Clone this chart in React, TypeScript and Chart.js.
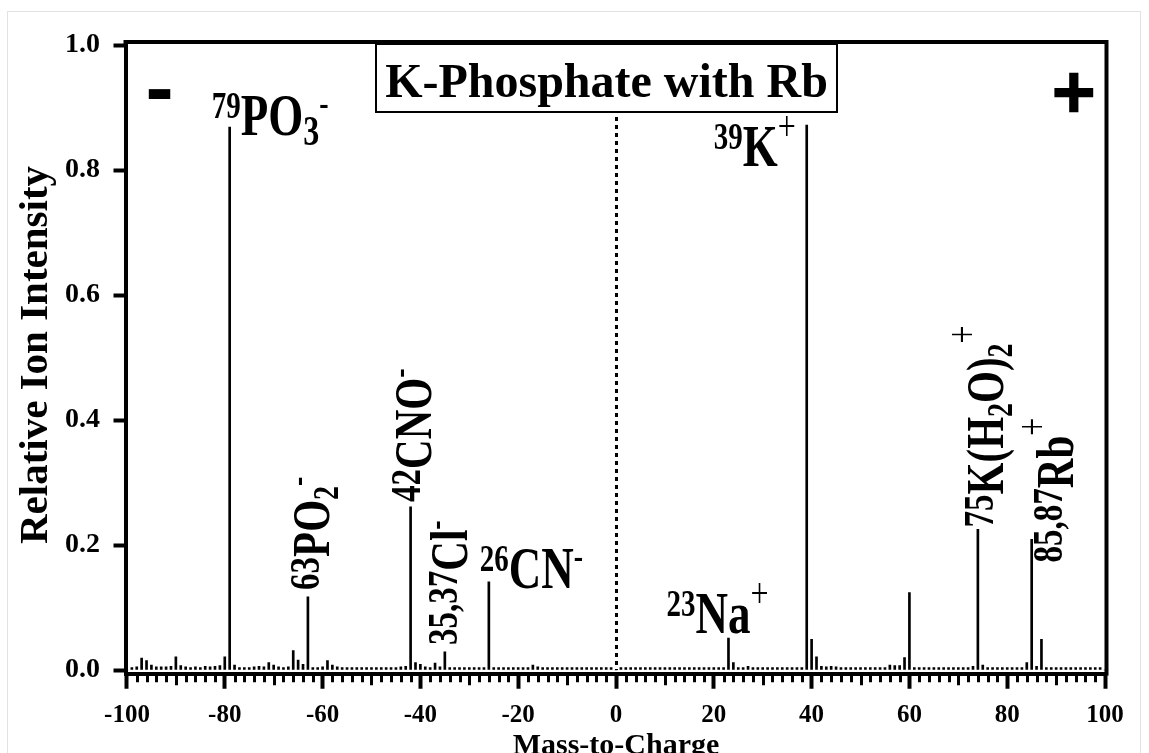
import React, { useEffect, useRef } from 'react';
import { Chart, registerables } from 'chart.js';

Chart.register(...registerables);

// ---------------- data ----------------
const MZ_START = -100;
// relative ion intensity for m/z = -100 ... 100 (negative ions left, positive ions right)
const intensity: number[] = [
  // -100 .. -91
  0, 0.004, 0.005, 0.019, 0.015, 0.008, 0.005, 0.005, 0.005, 0.006,
  // -90 .. -81
  0.021, 0.007, 0.005, 0.004, 0.005, 0.004, 0.006, 0.005, 0.006, 0.007,
  // -80 .. -71
  0.021, 0.869, 0.008, 0.004, 0.004, 0.004, 0.005, 0.006, 0.005, 0.012,
  // -70 .. -61
  0.008, 0.005, 0.004, 0.005, 0.031, 0.016, 0.009, 0.117, 0.004, 0.004,
  // -60 .. -51
  0.005, 0.015, 0.008, 0.005, 0.004, 0.004, 0.004, 0.004, 0.004, 0.004,
  // -50 .. -41
  0.004, 0.004, 0.004, 0.004, 0.004, 0.004, 0.005, 0.006, 0.261, 0.012,
  // -40 .. -31
  0.009, 0.005, 0.004, 0.011, 0.005, 0.029, 0.004, 0.004, 0.004, 0.004,
  // -30 .. -21
  0.004, 0.004, 0.004, 0.004, 0.141, 0.004, 0.004, 0.004, 0.004, 0.004,
  // -20 .. -11
  0.004, 0.004, 0.004, 0.008, 0.005, 0.004, 0.004, 0.004, 0.004, 0.004,
  // -10 .. -1
  0.004, 0.004, 0.004, 0.004, 0.004, 0.004, 0.004, 0.004, 0.004, 0.004,
  // 0
  0,
  // 1 .. 10
  0.004, 0.004, 0.004, 0.004, 0.004, 0.004, 0.004, 0.004, 0.004, 0.004,
  // 11 .. 20
  0.004, 0.004, 0.004, 0.004, 0.004, 0.004, 0.004, 0.004, 0.004, 0.004,
  // 21 .. 30
  0.004, 0.004, 0.051, 0.012, 0.004, 0.004, 0.006, 0.004, 0.004, 0.004,
  // 31 .. 40
  0.004, 0.004, 0.004, 0.004, 0.004, 0.004, 0.004, 0.004, 0.872, 0.049,
  // 41 .. 50
  0.021, 0.006, 0.005, 0.006, 0.005, 0.004, 0.004, 0.004, 0.004, 0.004,
  // 51 .. 60
  0.004, 0.004, 0.004, 0.004, 0.004, 0.008, 0.007, 0.007, 0.020, 0.124,
  // 61 .. 70
  0.004, 0.004, 0.004, 0.004, 0.004, 0.004, 0.004, 0.004, 0.004, 0.004,
  // 71 .. 80
  0.004, 0.004, 0.006, 0.225, 0.008, 0.004, 0.004, 0.004, 0.004, 0.004,
  // 81 .. 90
  0.004, 0.004, 0.004, 0.012, 0.209, 0.006, 0.049, 0.004, 0.004, 0.004,
  // 91 .. 100
  0.004, 0.004, 0.004, 0.004, 0.004, 0.004, 0.004, 0.004, 0.004, 0,
];

const xTickValues = [-100, -80, -60, -40, -20, 0, 20, 40, 60, 80, 100];
const yTickValues = [0, 0.2, 0.4, 0.6, 0.8, 1.0];

const chartTitle = 'K-Phosphate with Rb';
const xAxisTitle = 'Mass-to-Charge';
const yAxisTitle = 'Relative Ion Intensity';
const negativeSign = '-';
const positiveSign = '+';

type Part = { t: string; k: 'sup' | 'main' | 'sub' | 'minus' | 'plus' };

// peak labels: m/z of the labelled peak and the rich text parts
const labelMz = [-79, 39, 23, -26, -63, -42, -35, 74, 85];
const labelParts: Part[][] = [
  [{ t: '79', k: 'sup' }, { t: 'PO', k: 'main' }, { t: '3', k: 'sub' }, { t: '-', k: 'minus' }],
  [{ t: '39', k: 'sup' }, { t: 'K', k: 'main' }, { t: '+', k: 'plus' }],
  [{ t: '23', k: 'sup' }, { t: 'Na', k: 'main' }, { t: '+', k: 'plus' }],
  [{ t: '26', k: 'sup' }, { t: 'CN', k: 'main' }, { t: '-', k: 'minus' }],
  [{ t: '63', k: 'sup' }, { t: 'PO', k: 'main' }, { t: '2', k: 'sub' }, { t: '-', k: 'minus' }],
  [{ t: '42', k: 'sup' }, { t: 'CNO', k: 'main' }, { t: '-', k: 'minus' }],
  [{ t: '35,37', k: 'sup' }, { t: 'Cl', k: 'main' }, { t: '-', k: 'minus' }],
  [
    { t: '75', k: 'sup' }, { t: 'K(H', k: 'main' }, { t: '2', k: 'sub' },
    { t: 'O)', k: 'main' }, { t: '2', k: 'sub' }, { t: '+', k: 'plus' },
  ],
  [{ t: '85,87', k: 'sup' }, { t: 'Rb', k: 'main' }, { t: '+', k: 'plus' }],
];

// ---------------- layout / style ----------------
const FONT = '"Liberation Serif", "Times New Roman", Times, serif';
const labelLayout = [
  { dx: -18, dy: 8, rot: false },
  { dx: -93, dy: 41, rot: false },
  { dx: -62, dy: -5, rot: false },
  { dx: -9, dy: 6, rot: false },
  { dx: 21, dy: -7, rot: true },
  { dx: 20, dy: -5, rot: true },
  { dx: 22, dy: -7, rot: true },
  { dx: 25, dy: -2, rot: true },
  { dx: 41, dy: 23, rot: true },
];
const H_SIZES = { main: 45, sup: 29, sub: 32 };
const R_SIZES = { main: 41, sup: 33, sub: 28 };
const STRETCH = 1.3;

function drawRich(ctx: CanvasRenderingContext2D, parts: Part[], x0: number, y0: number, rot: boolean) {
  const sz = rot ? R_SIZES : H_SIZES;
  const k = STRETCH;
  const capM = 0.662 * sz.main * k;
  let adv = 0;
  for (const p of parts) {
    let size = sz.main;
    let weight = 'bold';
    let off = 0;
    if (p.k === 'sup') {
      size = sz.sup;
      off = -(capM - 0.676 * sz.sup * k) - 4;
    } else if (p.k === 'sub') {
      size = sz.sub;
      off = 0.23 * sz.main;
    } else if (p.k === 'minus') {
      size = 28;
      off = -(28 - 0.23 * 28 * k);
    } else if (p.k === 'plus') {
      size = 32;
      weight = 'normal';
      off = -(37 - 0.25 * 32 * k);
    }
    ctx.font = `${weight} ${size}px ${FONT}`;
    const w = ctx.measureText(p.t).width;
    const px = rot ? x0 + off : x0 + adv;
    const py = rot ? y0 - adv : y0 + off;
    ctx.save();
    ctx.translate(px, py);
    if (rot) ctx.rotate(-Math.PI / 2);
    ctx.scale(1, k);
    ctx.textAlign = 'left';
    ctx.textBaseline = 'alphabetic';
    ctx.fillText(p.t, 0, 0);
    ctx.restore();
    adv += w;
  }
}

function drawCentered(ctx: CanvasRenderingContext2D, text: string, cx: number, cy: number, font: string, strokeW = 0) {
  ctx.save();
  ctx.font = font;
  ctx.textAlign = 'left';
  ctx.textBaseline = 'alphabetic';
  const m = ctx.measureText(text);
  const x = cx - (m.actualBoundingBoxRight - m.actualBoundingBoxLeft) / 2;
  const y = cy - (m.actualBoundingBoxDescent - m.actualBoundingBoxAscent) / 2;
  ctx.fillText(text, x, y);
  if (strokeW > 0) {
    ctx.lineWidth = strokeW;
    ctx.lineJoin = 'miter';
    ctx.strokeText(text, x, y);
  }
  ctx.restore();
}

const framePlugin = {
  id: 'framePlugin',
  afterDraw(chart: any) {
    const { ctx, chartArea: a, scales } = chart;
    const xs = scales.x;
    const ys = scales.y;
    ctx.save();
    ctx.strokeStyle = '#000';
    ctx.fillStyle = '#000';

    // top & right frame
    ctx.lineWidth = 4;
    ctx.beginPath();
    ctx.moveTo(a.left - 2, a.top);
    ctx.lineTo(a.right, a.top);
    ctx.lineTo(a.right, a.bottom + 2);
    ctx.stroke();

    // minor x ticks
    ctx.lineWidth = 3;
    for (let m = -100; m <= 100; m += 2) {
      if (m % 20 === 0) continue;
      const px = Math.round(xs.getPixelForValue(m)) + 0.5;
      const end = m % 10 === 0 ? a.bottom + 11.5 : a.bottom + 8.5;
      ctx.beginPath();
      ctx.moveTo(px, a.bottom);
      ctx.lineTo(px, end);
      ctx.stroke();
    }

    // dotted line at m/z 0
    ctx.lineWidth = 3;
    ctx.setLineDash([4, 4]);
    const zx = Math.round(xs.getPixelForValue(0)) + 0.5;
    ctx.beginPath();
    ctx.moveTo(zx, ys.getPixelForValue(0.885));
    ctx.lineTo(zx, ys.getPixelForValue(0));
    ctx.stroke();
    ctx.setLineDash([]);

    // peak labels
    ctx.fillStyle = '#000';
    labelMz.forEach((mz, i) => {
      const v = intensity[mz - MZ_START];
      const px = xs.getPixelForValue(mz);
      const py = ys.getPixelForValue(v);
      const L = labelLayout[i];
      drawRich(ctx, labelParts[i], px + L.dx, py + L.dy, L.rot);
    });

    // title box
    const bx0 = 375, bx1 = 838, by0 = 43, by1 = 113;
    ctx.fillStyle = '#fff';
    ctx.fillRect(bx0, by0, bx1 - bx0, by1 - by0);
    ctx.lineWidth = 2;
    ctx.strokeRect(bx0 + 1, by0 + 1, bx1 - bx0 - 2, by1 - by0 - 2);
    ctx.fillStyle = '#000';
    ctx.font = `bold 48px ${FONT}`;
    ctx.textAlign = 'center';
    ctx.textBaseline = 'alphabetic';
    ctx.fillText(chartTitle, (bx0 + bx1) / 2, 97);

    // polarity signs
    drawCentered(ctx, negativeSign, 159.5, 93.5, 'bold 70px "DejaVu Sans"');
    drawCentered(ctx, positiveSign, 1074, 92, 'bold 58px "DejaVu Sans"', 2.5);

    // y axis title
    ctx.save();
    ctx.translate(47, 355);
    ctx.rotate(-Math.PI / 2);
    ctx.font = `bold 41px ${FONT}`;
    ctx.textAlign = 'center';
    ctx.textBaseline = 'alphabetic';
    ctx.fillText(yAxisTitle, 0, 0);
    ctx.restore();

    ctx.restore();
  },
};

export default function App() {
  const canvasRef = useRef<HTMLCanvasElement | null>(null);

  useEffect(() => {
    const canvas = canvasRef.current;
    if (!canvas) return;
    const points = intensity.map((v, i) => ({ x: MZ_START + i, y: v }));
    const chart = new Chart(canvas, {
      type: 'bar',
      data: {
        datasets: [
          {
            data: points as any,
            backgroundColor: '#000',
            borderWidth: 0,
            barThickness: 2,
          },
        ],
      },
      options: {
        responsive: false,
        animation: false,
        devicePixelRatio: 1,
        layout: { padding: { left: 0, top: 42, right: 42.5, bottom: 0 } },
        plugins: {
          legend: { display: false },
          tooltip: { enabled: false },
          title: { display: false },
        },
        scales: {
          x: {
            type: 'linear',
            min: -100.3,
            max: 100.3,
            offset: false,
            afterBuildTicks: (s: any) => {
              s.ticks = xTickValues.map((v) => ({ value: v }));
            },
            afterFit: (s: any) => {
              s.height = 79.25;
            },
            grid: {
              offset: false,
              drawOnChartArea: false,
              drawTicks: true,
              tickLength: 15,
              tickWidth: 4,
              tickColor: '#000',
            },
            border: { display: true, color: '#000', width: 4 },
            ticks: {
              color: '#000',
              font: { family: FONT, size: 25, weight: 'bold' },
              padding: 12,
              maxRotation: 0,
              autoSkip: false,
              callback: (v: any) => String(v),
            },
            title: {
              display: true,
              text: xAxisTitle,
              color: '#000',
              font: { family: FONT, size: 30, weight: 'bold' },
              padding: { top: 0, bottom: -11 },
            },
          },
          y: {
            type: 'linear',
            min: -0.006,
            max: 1.005,
            afterBuildTicks: (s: any) => {
              s.ticks = yTickValues.map((v) => ({ value: v }));
            },
            afterFit: (s: any) => {
              s.width = 125.5;
            },
            grid: {
              drawOnChartArea: false,
              drawTicks: true,
              tickLength: 12,
              tickWidth: 4,
              tickColor: '#000',
            },
            border: { display: true, color: '#000', width: 4 },
            ticks: {
              color: '#000',
              font: { family: FONT, size: 28, weight: 'bold' },
              padding: 13.5,
              callback: (v: any) => Number(v).toFixed(1),
            },
          },
        },
      } as any,
      plugins: [framePlugin],
    });
    return () => chart.destroy();
  }, []);

  return (
    <div style={{ position: 'absolute', left: 0, top: 0, width: 1149, height: 753, overflow: 'hidden', background: '#fff' }}>
      <div
        style={{
          position: 'absolute',
          left: 7,
          top: 11,
          width: 1134,
          height: 760,
          border: '1px solid #e2e2e2',
          boxSizing: 'border-box',
        }}
      />
      <canvas
        ref={canvasRef}
        width={1149}
        height={753}
        style={{ position: 'absolute', left: 0, top: 0, width: 1149, height: 753 }}
      />
    </div>
  );
}
